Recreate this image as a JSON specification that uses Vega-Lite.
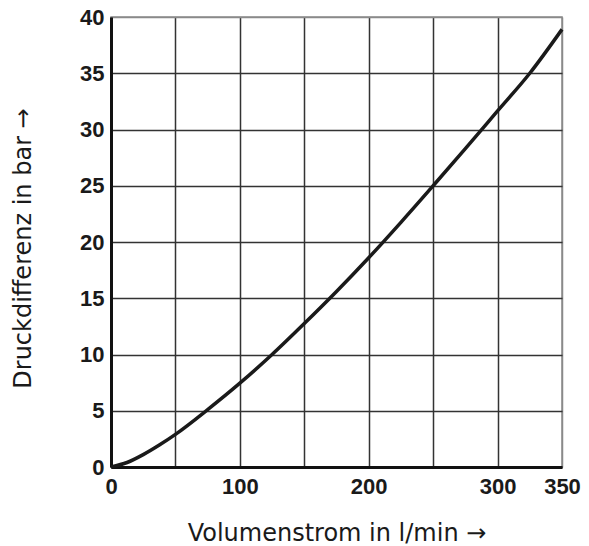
{
  "$schema": "https://vega.github.io/schema/vega-lite/v6.json",
  "width": 451,
  "height": 450,
  "autosize": "none",
  "padding": {"left": 111, "top": 17, "right": 27, "bottom": 79},
  "background": "white",
  "config": {"view": {"stroke": "#8a8a8a", "strokeWidth": 1.5}},
  "data": {"values": [
    {"q": 0, "dp": 0},
    {"q": 12.5, "dp": 0.4},
    {"q": 25, "dp": 1.1},
    {"q": 37.5, "dp": 1.95},
    {"q": 50, "dp": 2.9},
    {"q": 75, "dp": 5.1},
    {"q": 100, "dp": 7.45},
    {"q": 125, "dp": 10.0},
    {"q": 150, "dp": 12.75},
    {"q": 175, "dp": 15.6},
    {"q": 200, "dp": 18.6},
    {"q": 225, "dp": 21.75},
    {"q": 250, "dp": 25.0},
    {"q": 275, "dp": 28.3},
    {"q": 300, "dp": 31.65},
    {"q": 325, "dp": 35.0},
    {"q": 350, "dp": 38.9}
  ]},
  "mark": {"type": "line", "color": "#1a1a1a", "strokeWidth": 3.5, "interpolate": "monotone"},
  "encoding": {
    "x": {
      "field": "q", "type": "quantitative",
      "scale": {"domain": [0, 350], "nice": false},
      "axis": {
        "values": [0, 50, 100, 150, 200, 250, 300, 350],
        "labelExpr": "datum.value % 100 == 0 || datum.value == 350 ? datum.label : ''",
        "grid": true,
        "gridColor": {"condition": {"test": "datum.value == 350", "value": "#8a8a8a"}, "value": "#333333"},
        "gridWidth": 1.5,
        "ticks": false,
        "domain": true, "domainColor": "#111111", "domainWidth": 3,
        "labelFont": "Liberation Sans", "labelFontWeight": "bold", "labelFontSize": 22, "labelColor": "#1a1a1a",
        "labelPadding": 9, "labelFlush": false, "labelOverlap": false,
        "title": "Volumenstrom in l/min →",
        "titleFont": "DejaVu Sans", "titleFontWeight": "normal", "titleFontSize": 24, "titleColor": "#1a1a1a",
        "titleBaseline": "alphabetic", "titleY": 73
      }
    },
    "y": {
      "field": "dp", "type": "quantitative",
      "scale": {"domain": [0, 40], "nice": false},
      "axis": {
        "values": [0, 5, 10, 15, 20, 25, 30, 35, 40],
        "grid": true,
        "gridColor": {"condition": {"test": "datum.value == 40", "value": "#8a8a8a"}, "value": "#333333"},
        "gridWidth": 1.5,
        "ticks": false,
        "domain": true, "domainColor": "#111111", "domainWidth": 3,
        "labelFont": "Liberation Sans", "labelFontWeight": "bold", "labelFontSize": 22, "labelColor": "#1a1a1a",
        "labelPadding": 7, "labelFlush": false, "labelOverlap": false,
        "title": "Druckdifferenz in bar →",
        "titleFont": "DejaVu Sans", "titleFontWeight": "normal", "titleFontSize": 24, "titleColor": "#1a1a1a",
        "titleX": -88, "titleY": 231, "titleAngle": -90, "titleBaseline": "middle"
      }
    }
  }
}
